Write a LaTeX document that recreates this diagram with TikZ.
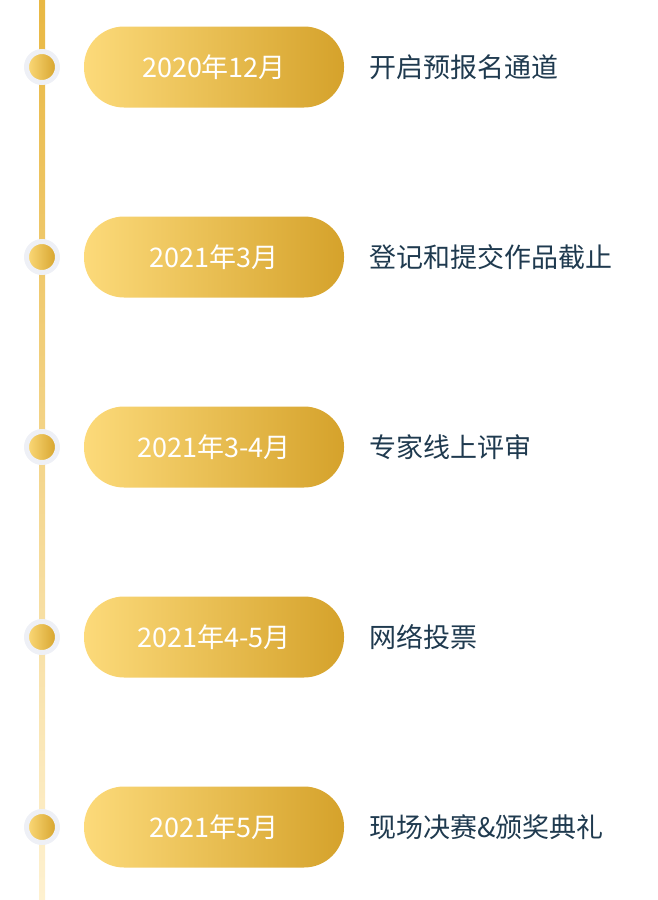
\documentclass[tikz,border=0pt]{standalone}
\usepackage{fontspec}
\setmainfont{Noto Sans CJK SC}
\usetikzlibrary{positioning}
\definecolor{goldL}{HTML}{FCDA7A}
\definecolor{goldD}{HTML}{D5A22B}
\definecolor{lineT}{HTML}{E9B843}
\definecolor{lineB}{HTML}{FEF1D0}
\definecolor{ringC}{HTML}{EEF0F6}
\definecolor{txtC}{HTML}{1F3A4F}
\begin{document}
\begin{tikzpicture}[x=1pt,y=-1pt,node distance=190pt,
				pill/.style={rounded corners=40pt,minimum width=260pt,minimum height=81pt,
					left color=goldL,right color=goldD,text=white,font=\fontsize{27}{30}\selectfont,inner sep=0pt},
				dot/.style={circle,fill=goldD,left color=goldL,right color=goldD,draw=ringC,line width=5pt,minimum size=31pt,inner sep=0pt},
				desc/.style={anchor=west,text=txtC,font=\fontsize{27}{30}\selectfont}]
				\useasboundingbox (0,0) rectangle (657,900);
				\shade[top color=lineT,bottom color=lineB] (39,0) rectangle (45,900);
				
				\node[pill] (A) at (214,67) {2020年12月};
				\node[pill] (B) [below of=A] {2021年3月};
				\node[pill] (C) [below of=B] {2021年3-4月};
				\node[pill] (D) [below of=C] {2021年4-5月};
				\node[pill] (E) [below of=D] {2021年5月};
				
				\foreach \n/\t in {A/开启预报名通道,B/登记和提交作品截止,C/专家线上评审,D/网络投票,E/现场决赛\&颁奖典礼}{
					\node[dot] (dot\n) at (42,0 |- \n) {};
					\node[desc] (txt\n) at (366,0 |- \n) {\t};
				}
			\end{tikzpicture}
\end{document}
